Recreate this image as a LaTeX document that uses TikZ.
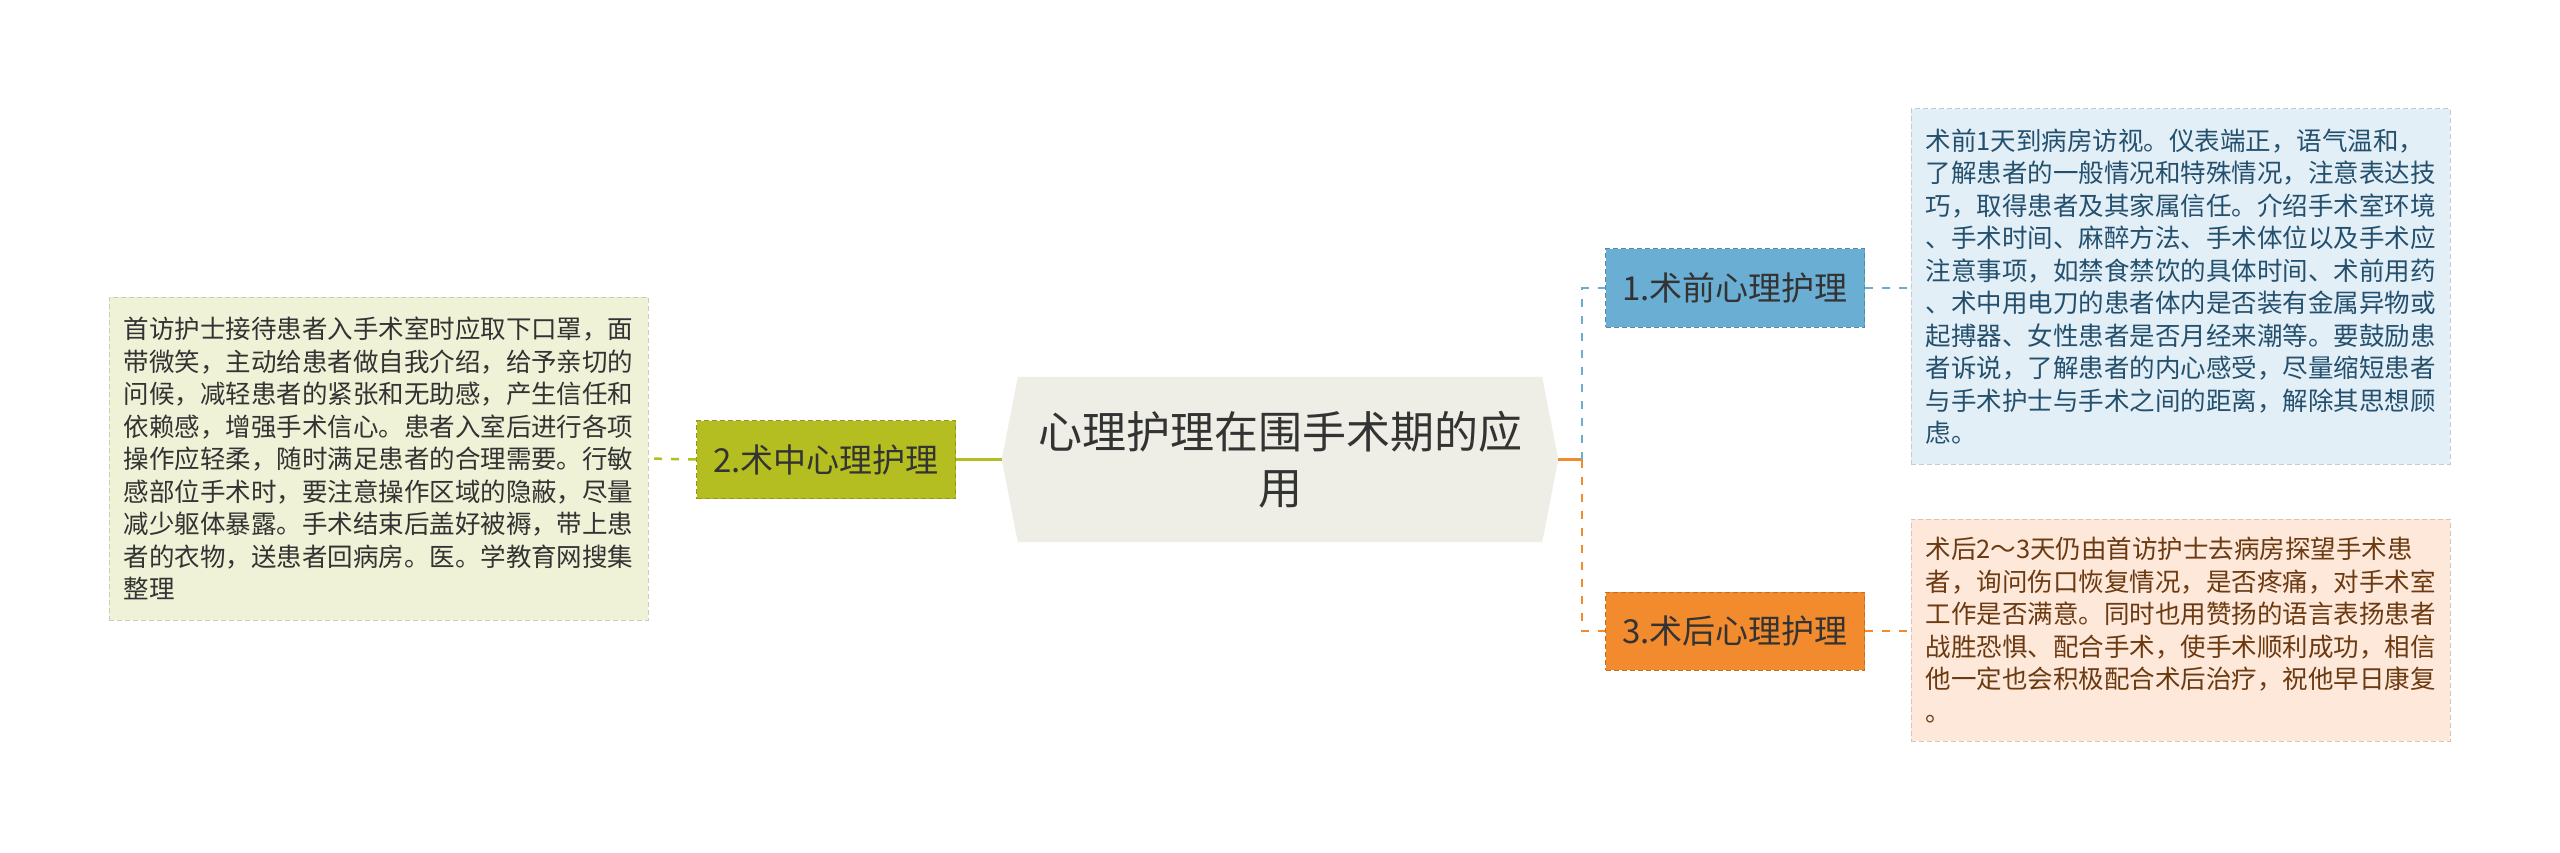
\documentclass[tikz,border=0pt]{standalone}
\usepackage{fontspec}
\setmainfont{Noto Sans CJK SC}
\usetikzlibrary{backgrounds}

\definecolor{rootfill}{HTML}{EEEEE6}
\definecolor{textdark}{HTML}{333333}
\definecolor{olivetone}{HTML}{B5BE20}
\definecolor{oliveleaf}{HTML}{EFF2D6}
\definecolor{bluetone}{HTML}{6AAED3}
\definecolor{blueleaf}{HTML}{E3EFF7}
\definecolor{bluetext}{HTML}{24506E}
\definecolor{orangetone}{HTML}{F28B2E}
\definecolor{orangeleaf}{HTML}{FDE8DA}
\definecolor{orangetext}{HTML}{6B3A11}

\begin{document}
\begin{tikzpicture}[x=1pt, y=-1pt,
  root/.style={minimum width=556pt, minimum height=165pt, inner sep=0pt,
    align=center, text=textdark, font=\fontsize{44}{56}\selectfont},
  topic/.style={minimum width=259pt, minimum height=78pt, inner sep=0pt,
    text=textdark, font=\fontsize{33}{40}\selectfont, fill=#1,
    draw=#1!80!black, dash pattern=on 5pt off 3pt, line width=1pt},
  leaf/.style={minimum width=539pt, inner sep=0pt, align=left, fill=#1,
    draw=#1!85!black, dash pattern=on 5pt off 3pt, line width=1pt,
    font=\fontsize{25.5}{32.5}\selectfont},
  link/.style={draw=#1, line width=3pt},
  dlink/.style={draw=#1, line width=2.5pt, dash pattern=on 8pt off 9pt}]
  \useasboundingbox (0,0) rectangle (2560,853);
  % root
  \node[root] (root) at (1280,459.5) {心理护理在围手术期的应\\用};
  \begin{scope}[on background layer]
    \fill[white] (0,0) rectangle (2560,853);
    \fill[rootfill] ([xshift=16pt]root.north west) -- (root.west)
      -- ([xshift=16pt]root.south west) -- ([xshift=-16pt]root.south east)
      -- (root.east) -- ([xshift=-16pt]root.north east) -- cycle;
  \end{scope}
  % topics
  \node[topic=bluetone] (pre) at (1735,288) {1.术前心理护理};
  \node[topic=olivetone] (mid) at (826,459.5) {2.术中心理护理};
  \node[topic=orangetone] (post) at (1735,631) {3.术后心理护理};
  % leaves
  \node[leaf=blueleaf, text=bluetext, minimum height=355pt] (preleaf) at (2180.5,286.5) {%
    术前1天到病房访视。仪表端正，语气温和，\\
    了解患者的一般情况和特殊情况，注意表达技\\
    巧，取得患者及其家属信任。介绍手术室环境\\
    、手术时间、麻醉方法、手术体位以及手术应\\
    注意事项，如禁食禁饮的具体时间、术前用药\\
    、术中用电刀的患者体内是否装有金属异物或\\
    起搏器、女性患者是否月经来潮等。要鼓励患\\
    者诉说，了解患者的内心感受，尽量缩短患者\\
    与手术护士与手术之间的距离，解除其思想顾\\
    虑。};
  \node[leaf=oliveleaf, text=textdark, minimum height=323pt] (midleaf) at (378.5,458.5) {%
    首访护士接待患者入手术室时应取下口罩，面\\
    带微笑，主动给患者做自我介绍，给予亲切的\\
    问候，减轻患者的紧张和无助感，产生信任和\\
    依赖感，增强手术信心。患者入室后进行各项\\
    操作应轻柔，随时满足患者的合理需要。行敏\\
    感部位手术时，要注意操作区域的隐蔽，尽量\\
    减少躯体暴露。手术结束后盖好被褥，带上患\\
    者的衣物，送患者回病房。医。学教育网搜集\\
    整理};
  \node[leaf=orangeleaf, text=orangetext, minimum height=222pt] (postleaf) at (2180.5,630) {%
    术后2～3天仍由首访护士去病房探望手术患\\
    者，询问伤口恢复情况，是否疼痛，对手术室\\
    工作是否满意。同时也用赞扬的语言表扬患者\\
    战胜恐惧、配合手术，使手术顺利成功，相信\\
    他一定也会积极配合术后治疗，祝他早日康复\\
    。};
  % links
  \coordinate (fork) at (1582,459.5);
  \draw[link=olivetone] (root.west) -- (mid.east);
  \draw[dlink=olivetone] (mid.west) -- (midleaf.east);
  \draw[link=orangetone] (root.east) -- (fork);
  \draw[dlink=bluetone] (fork) |- (pre.west);
  \draw[dlink=orangetone] (fork) |- (post.west);
  \draw[dlink=bluetone] (pre.east) -- (pre.east -| preleaf.west);
  \draw[dlink=orangetone] (post.east) -- (post.east -| postleaf.west);
\end{tikzpicture}
\end{document}
